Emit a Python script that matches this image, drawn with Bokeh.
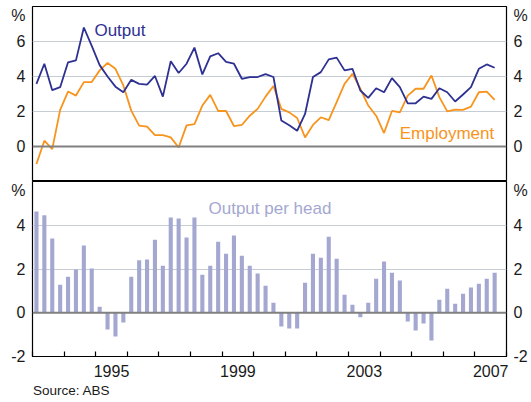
from bokeh.plotting import figure
from bokeh.layouts import column
from bokeh.models import (LinearAxis, FixedTicker, CustomJSTickFormatter, Span,
                          Range1d, Grid)
from bokeh.embed import file_html
from bokeh.resources import INLINE
from bokeh.core.properties import value

FONT = "Liberation Sans"

# ---------------- data (quarterly, 1993 Q1 - 2007 Q3) ----------------
quarters = [f"{y}Q{q}" for y in range(1993, 2008) for q in range(1, 5)][:59]

output = [3.58, 4.73, 3.22, 3.39, 4.81, 4.92, 6.80, 5.75, 4.65, 4.00,
          3.42, 3.10, 3.81, 3.58, 3.54, 4.03, 2.85, 4.87, 4.20, 4.73,
          5.65, 4.12, 5.15, 5.33, 4.83, 4.73, 3.87, 3.97, 3.97, 4.14,
          3.97, 1.48, 1.21, 0.90, 1.86, 3.97, 4.25, 4.98, 5.08, 4.35,
          4.44, 3.20, 2.78, 3.33, 3.10, 3.91, 3.39, 2.47, 2.47, 2.85,
          2.72, 3.33, 3.10, 2.57, 2.97, 3.39, 4.44, 4.69, 4.50]

employment = [-1.00, 0.33, -0.15, 2.09, 3.14, 2.91, 3.68, 3.68, 4.35, 4.77,
              4.44, 3.49, 2.05, 1.19, 1.13, 0.65, 0.65, 0.52, -0.06, 1.21,
              1.28, 2.34, 2.95, 2.03, 2.03, 1.17, 1.23, 1.76, 2.15, 2.85,
              3.46, 2.15, 1.95, 1.63, 0.52, 1.23, 1.67, 1.51, 2.53, 3.58,
              4.16, 3.30, 2.34, 1.76, 0.77, 2.03, 1.95, 2.91, 3.30, 3.30,
              4.06, 2.82, 2.01, 2.11, 2.09, 2.28, 3.10, 3.14, 2.66]

output_per_head = [4.63, 4.46, 3.39, 1.28, 1.65, 1.98, 3.07, 2.02, 0.27, -0.76,
                   -1.08, -0.44, 1.65, 2.40, 2.43, 3.34, 2.15, 4.35, 4.31, 3.44,
                   4.35, 1.74, 2.15, 3.25, 2.70, 3.53, 2.61, 2.15, 1.79, 1.24,
                   0.46, -0.63, -0.72, -0.72, 1.37, 2.70, 2.52, 3.48, 2.47, 0.82,
                   0.37, -0.21, 0.46, 1.56, 2.34, 1.83, 1.47, -0.40, -0.81, -0.49,
                   -1.27, 0.60, 1.10, 0.41, 0.87, 1.15, 1.33, 1.56, 1.83]

year_labels = [1995, 1999, 2003, 2007]

# quarter -> decimal year (mid-quarter)
qx = [int(s[:4]) + (int(s[-1]) - 0.5) / 4 for s in quarters]

NAVY = "#2e3192"
ORANGE = "#f7941d"
LAV = "#a4a8d1"
GRID = "#c6cdd5"
ZERO = "#808080"
TXT = "#1a1a1a"

x_range = Range1d(1993, 2008)

W = 530
LEFT = 32
RIGHT = W - 32 - 474


def style_axis(ax, ticks, pct_at, pct_thresh, standoff=7):
    ax.ticker = FixedTicker(ticks=ticks + [pct_at])
    ax.formatter = CustomJSTickFormatter(
        code=f"return tick > {pct_thresh} ? '%' : tick.toFixed(0);")
    ax.axis_line_color = None
    ax.major_tick_line_color = None
    ax.minor_tick_line_color = None
    ax.major_tick_in = 0
    ax.major_tick_out = 0
    ax.minor_tick_in = 0
    ax.minor_tick_out = 0
    ax.major_label_standoff = standoff
    ax.major_label_text_font = FONT
    ax.major_label_text_font_size = "16px"
    ax.major_label_text_color = TXT


# ---------------- top panel ----------------
top = figure(width=W, height=181, x_range=x_range, y_range=Range1d(-2, 8),
             output_backend="svg", toolbar_location=None,
             x_axis_location=None, y_axis_location=None,
             min_border_left=LEFT, min_border_right=RIGHT,
             min_border_top=6, min_border_bottom=0)
for g in top.grid:
    g.visible = False
top.add_layout(Grid(dimension=1, ticker=FixedTicker(ticks=[2, 4, 6]),
                    grid_line_color=GRID, grid_line_width=1.2))
top.add_layout(Span(location=0, dimension="width", line_color=ZERO, line_width=2.2))
top.outline_line_color = "black"
top.outline_line_width = 1.2

for side in ("left", "right"):
    ax = LinearAxis()
    style_axis(ax, [0, 2, 4, 6], 7.47, 7)
    top.add_layout(ax, side)

top.line(qx, employment, line_color=ORANGE, line_width=1.8)
top.line(qx, output, line_color=NAVY, line_width=1.8)

top.text(x=[1994.96], y=[6.62], text=["Output"], text_font=value(FONT),
         text_font_size="17px", text_color=NAVY, text_baseline="alphabetic")
top.text(x=[2004.62], y=[0.72], text=["Employment"], text_font=value(FONT),
         text_font_size="17px", text_color=ORANGE, text_baseline="alphabetic")

# ---------------- bottom panel ----------------
bot = figure(width=W, height=220, x_range=x_range, y_range=Range1d(-2, 6),
             output_backend="svg", toolbar_location=None,
             x_axis_location=None, y_axis_location=None,
             min_border_left=LEFT, min_border_right=RIGHT,
             min_border_top=0, min_border_bottom=45)
for g in bot.grid:
    g.visible = False
bot.add_layout(Grid(dimension=1, ticker=FixedTicker(ticks=[2, 4]),
                    grid_line_color=GRID, grid_line_width=1.2))
bot.outline_line_color = "black"
bot.outline_line_width = 1.2

for side in ("left", "right"):
    ax = LinearAxis()
    style_axis(ax, [-2, 0, 2, 4], 5.6, 5)
    bot.add_layout(ax, side)

bot.vbar(x=qx, top=output_per_head, width=0.13, fill_color=LAV, line_color=None)
bot.add_layout(Span(location=0, dimension="width", line_color=ZERO, line_width=2.2))

xax = LinearAxis()
xax.ticker = FixedTicker(ticks=[y + 0.5 for y in year_labels],
                         minor_ticks=list(range(1993, 2009)))
xax.formatter = CustomJSTickFormatter(code="return Math.floor(tick).toString();")
xax.axis_line_color = "black"
xax.axis_line_width = 1.2
xax.major_tick_line_color = None
xax.major_tick_in = 0
xax.major_tick_out = 0
xax.minor_tick_line_color = "black"
xax.minor_tick_line_width = 1.2
xax.minor_tick_in = 5
xax.minor_tick_out = 0
xax.major_label_standoff = 8
xax.major_label_text_font = FONT
xax.major_label_text_font_size = "16px"
xax.major_label_text_color = TXT
bot.add_layout(xax, "below")

# source note, drawn as a one-tick axis below the date axis
src = LinearAxis()
src.ticker = FixedTicker(ticks=[1994.24])
src.formatter = CustomJSTickFormatter(code="return 'Source: ABS';")
src.axis_line_color = None
src.major_tick_line_color = None
src.minor_tick_line_color = None
src.major_tick_in = 0
src.major_tick_out = 0
src.minor_tick_in = 0
src.minor_tick_out = 0
src.major_label_standoff = 3
src.major_label_text_font = FONT
src.major_label_text_font_size = "13.5px"
src.major_label_text_color = TXT
bot.add_layout(src, "below")

bot.text(x=[1998.57], y=[4.75], text=["Output per head"], text_font=value(FONT),
         text_font_size="17px", text_color=LAV, text_baseline="alphabetic")

layout = column(top, bot)
open("out.html", "w").write(file_html(layout, INLINE))
